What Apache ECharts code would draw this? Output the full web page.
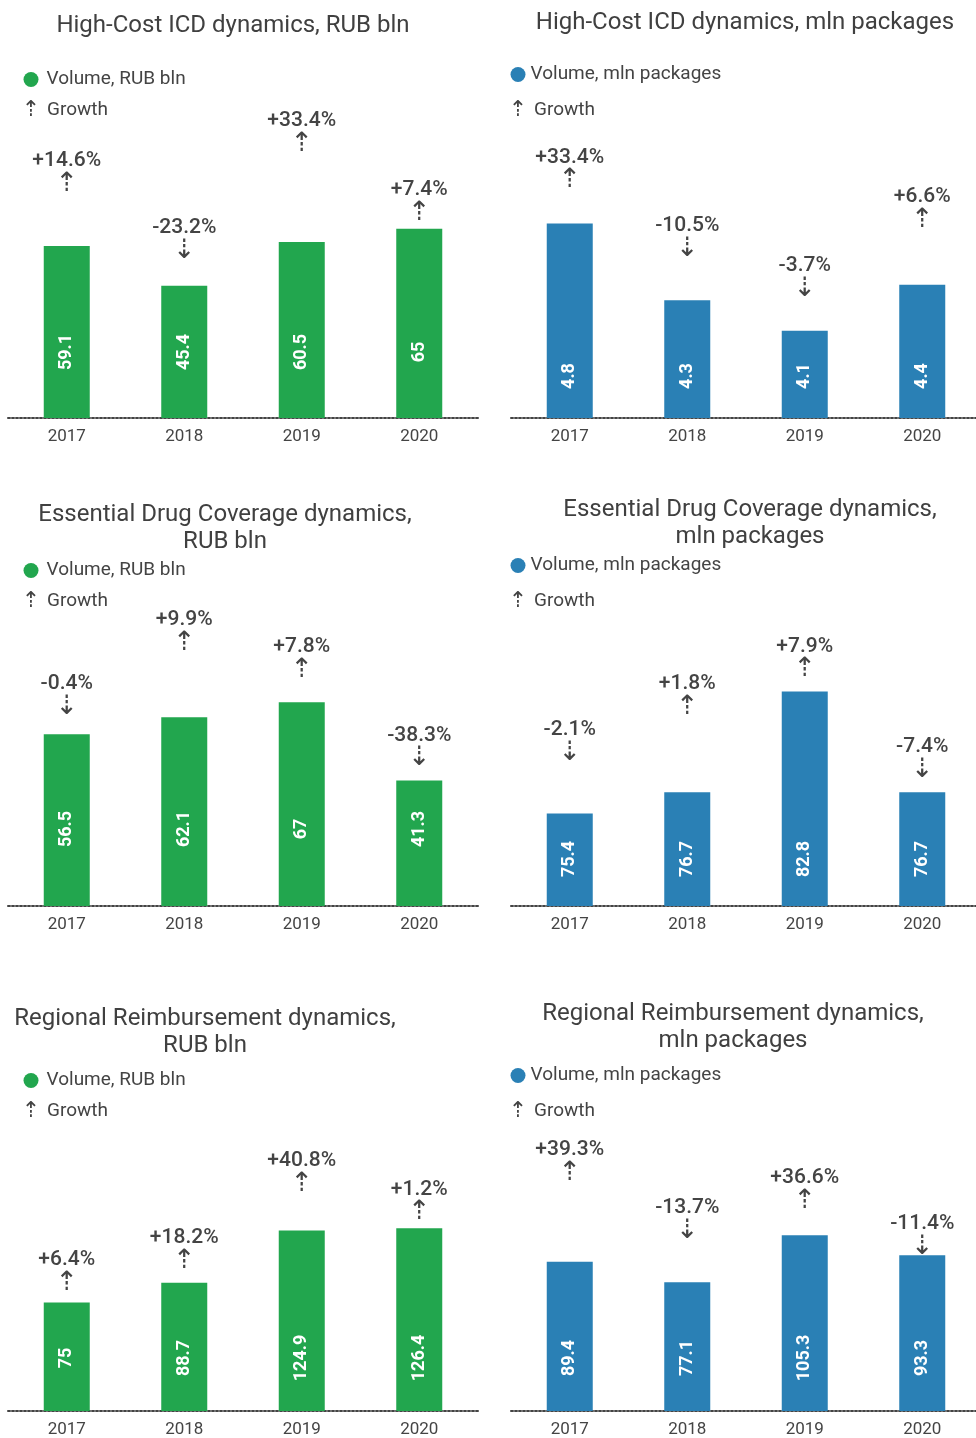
<!DOCTYPE html>
<html lang="en">
<head>
    <meta charset="UTF-8">
    <title>Drug supply dynamics</title>
    <script type="text/javascript" src="https://cdn.jsdelivr.net/npm/echarts@6.0.0/dist/echarts.min.js"></script>
    <style>
        html, body {
            margin: 0;
            padding: 0;
            background: #fff;
            overflow: hidden;
        }

        /* a bit wider than the window so the right panels are not squeezed */
        #main {
            width: 990px;
            height: 1438px;
        }
    </style>
</head>
<body>
<div id="main"></div>
<script>
    // data
    var years = ['2017', '2018', '2019', '2020'];

    var icdRub = [59.1, 45.4, 60.5, 65];
    var icdRubGrowth = [14.6, -23.2, 33.4, 7.4];
    var icdPack = [4.8, 4.3, 4.1, 4.4];
    var icdPackGrowth = [33.4, -10.5, -3.7, 6.6];

    var edcRub = [56.5, 62.1, 67, 41.3];
    var edcRubGrowth = [-0.4, 9.9, 7.8, -38.3];
    var edcPack = [75.4, 76.7, 82.8, 76.7];
    var edcPackGrowth = [-2.1, 1.8, 7.9, -7.4];

    var rrRub = [75, 88.7, 124.9, 126.4];
    var rrRubGrowth = [6.4, 18.2, 40.8, 1.2];
    var rrPack = [89.4, 77.1, 105.3, 93.3];
    var rrPackGrowth = [39.3, -13.7, 36.6, -11.4];

    var GREEN = '#22a64e';
    var BLUE = '#2a80b5';
    var TEXT = '#444';
    var H = 250; // plot height of every panel

    // layout of the six panels
    var panels = [
        {title: 'High-Cost ICD dynamics, RUB bln', tx: 233, ty: 26, name: 'Volume, RUB bln', color: GREEN,
            values: icdRub, growth: icdRubGrowth, left: 8, base: 418, min: 0, max: 85.9,
            lx: 31, ly: 80, gy: 110, pad: 3, valPos: 66, gaps: [54, 27, 90, 8]},
        {title: 'High-Cost ICD dynamics, mln packages', tx: 745, ty: 23, name: 'Volume, mln packages', color: BLUE,
            values: icdPack, growth: icdPackGrowth, left: 511, base: 418, min: 3.532, max: 5.161,
            lx: 518, ly: 75, gy: 110, pad: 0, valPos: 42, gaps: [35, 43, 34, 57]},
        {title: 'Essential Drug Coverage dynamics,\nRUB bln', tx: 225, ty: 528, name: 'Volume, RUB bln', color: GREEN,
            values: edcRub, growth: edcRubGrowth, left: 8, base: 906, min: 0, max: 82.2,
            lx: 31, ly: 571, gy: 601, pad: 3, valPos: 77, gaps: [19, 66, 24, 14]},
        {title: 'Essential Drug Coverage dynamics,\nmln packages', tx: 750, ty: 523, name: 'Volume, mln packages', color: BLUE,
            values: edcPack, growth: edcPackGrowth, left: 511, base: 906, min: 69.8, max: 84.95,
            lx: 518, ly: 566, gy: 601, pad: 0, valPos: 47, gaps: [53, 77, 14, 14]},
        {title: 'Regional Reimbursement dynamics,\nRUB bln', tx: 205, ty: 1032, name: 'Volume, RUB bln', color: GREEN,
            values: rrRub, growth: rrRubGrowth, left: 8, base: 1411, min: 0, max: 173,
            lx: 31, ly: 1081, gy: 1111, pad: 3, valPos: 53, gaps: [12, 14, 39, 8]},
        {title: 'Regional Reimbursement dynamics,\nmln packages', tx: 733, ty: 1027, name: 'Volume, mln packages', color: BLUE,
            values: rrPack, growth: rrPackGrowth, left: 511, base: 1411, min: 0, max: 149.7,
            lx: 518, ly: 1076, gy: 1111, pad: 0, valPos: 53, gaps: [81, 43, 26, 0]}
    ];

    var chart = echarts.init(document.getElementById('main'));

    var grid = [], xAxis = [], yAxis = [], series = [], legend = [], graphic = [];

    panels.forEach(function (p, i) {
        grid.push({left: p.left, top: p.base - H, width: 470, height: H});

        xAxis.push({
            type: 'category',
            gridIndex: i,
            data: years,
            axisTick: {show: false},
            axisLine: {lineStyle: {color: '#444', type: [2, 2], width: 2}},
            axisLabel: {color: TEXT, fontSize: 17, fontFamily: 'Roboto', margin: 10}
        });

        yAxis.push({type: 'value', gridIndex: i, min: p.min, max: p.max, show: false});

        // volume bars
        series.push({
            type: 'bar',
            name: p.name,
            xAxisIndex: i,
            yAxisIndex: i,
            data: p.values,
            barWidth: 46,
            itemStyle: {color: p.color},
            label: {
                show: true,
                position: 'insideBottom',
                distance: p.valPos,
                rotate: 90,
                align: 'center',
                verticalAlign: 'middle',
                color: '#fff',
                fontSize: 18,
                fontWeight: 'bold',
                fontFamily: 'Roboto'
            },
            silent: true
        });

        // invisible twin bars that carry the growth notes
        series.push({
            type: 'bar',
            name: 'growth' + i,
            xAxisIndex: i,
            yAxisIndex: i,
            barWidth: 46,
            barGap: '-100%',
            itemStyle: {color: 'transparent'},
            silent: true,
            data: p.values.map(function (v, j) {
                return {value: v, label: {distance: p.gaps[j] - 3}};
            }),
            label: {
                show: true,
                position: 'top',
                formatter: function (o) {
                    var g = p.growth[o.dataIndex];
                    return '{g|' + (g > 0 ? '+' : '') + g.toFixed(1) + '%}\n{a|' + (g > 0 ? '\u21e1' : '\u21e3') + '}';
                },
                rich: {
                    g: {fontSize: 21, fontWeight: 500, color: TEXT, fontFamily: 'Roboto', lineHeight: 24},
                    a: {fontSize: 27, color: TEXT, fontFamily: 'DejaVu Sans', lineHeight: 22}
                }
            }
        });

        legend.push({
            data: [p.name],
            left: p.lx - 7.5,
            top: p.ly - 10,
            padding: 0,
            icon: 'circle',
            itemWidth: 15,
            itemHeight: 15,
            selectedMode: false,
            textStyle: {color: TEXT, fontSize: 19, fontFamily: 'Roboto', padding: [0, 0, 0, p.pad]}
        });

        graphic.push({
            type: 'text', x: p.tx, y: p.ty,
            style: {text: p.title, align: 'center', verticalAlign: 'middle', fill: '#404040',
                fontSize: 24, fontFamily: 'Roboto', lineHeight: 27}
        });
        graphic.push({
            type: 'text', x: p.lx, y: p.gy,
            style: {text: '\u21e1', align: 'center', verticalAlign: 'middle', fill: TEXT,
                fontSize: 22, fontFamily: 'DejaVu Sans'}
        });
        graphic.push({
            type: 'text', x: p.lx + 16, y: p.gy,
            style: {text: 'Growth', align: 'left', verticalAlign: 'middle', fill: TEXT,
                fontSize: 19, fontFamily: 'Roboto'}
        });
    });

    chart.setOption({
        animation: false,
        grid: grid,
        xAxis: xAxis,
        yAxis: yAxis,
        legend: legend,
        graphic: graphic,
        series: series
    });
</script>
</body>
</html>
